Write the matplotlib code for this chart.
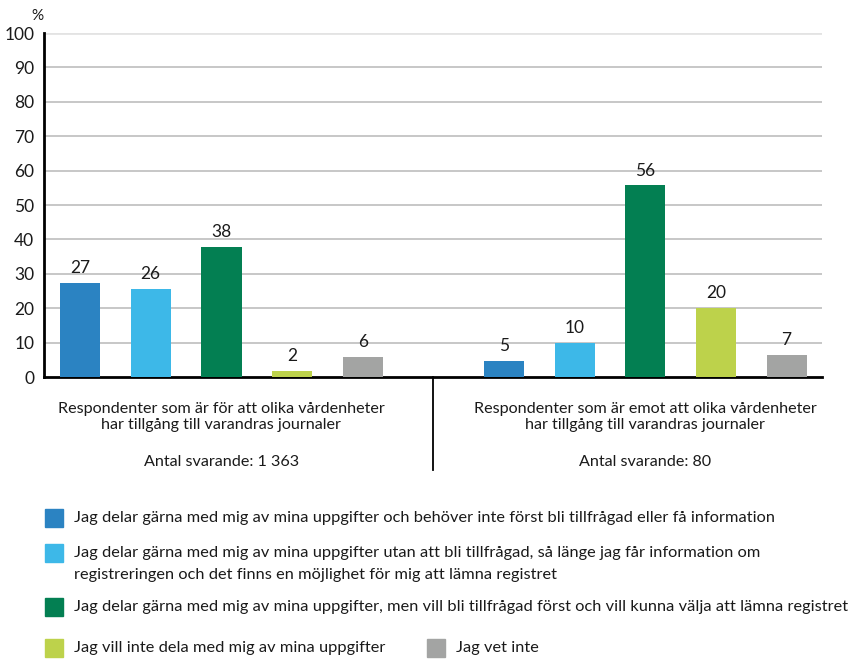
import matplotlib
matplotlib.use("Agg")
import matplotlib.pyplot as plt
from matplotlib.patches import Rectangle

plt.rcParams['font.family'] = ['Lato', 'DejaVu Sans']

series_names = [
    "Jag delar gärna med mig av mina uppgifter och behöver inte först bli tillfrågad eller få information",
    "Jag delar gärna med mig av mina uppgifter utan att bli tillfrågad, så länge jag får information om\nregistreringen och det finns en möjlighet för mig att lämna registret",
    "Jag delar gärna med mig av mina uppgifter, men vill bli tillfrågad först och vill kunna välja att lämna registret",
    "Jag vill inte dela med mig av mina uppgifter",
    "Jag vet inte",
]
colors = ["#2B83C2", "#3DB8E8", "#037F52", "#BDD24B", "#A3A4A3"]

group_titles = [
    "Respondenter som är för att olika vårdenheter\nhar tillgång till varandras journaler",
    "Respondenter som är emot att olika vårdenheter\nhar tillgång till varandras journaler",
]
group_counts = ["Antal svarande: 1 363", "Antal svarande: 80"]

values_for = [27.4, 25.7, 37.9, 1.8, 5.8]
labels_for = ["27", "26", "38", "2", "6"]
values_against = [4.7, 9.9, 55.7, 20.0, 6.4]
labels_against = ["5", "10", "56", "20", "7"]

yticks = list(range(0, 101, 10))

fig = plt.figure(figsize=(8.57, 6.6), dpi=100)
ax = fig.add_axes([44/857, 1-377/660, (822-44)/857, (377-33)/660])

txt = "#1a1a1a"
groups = [(values_for, labels_for, 0), (values_against, labels_against, 6)]
for vals, labs, off in groups:
    for i, (v, l) in enumerate(zip(vals, labs)):
        ax.bar(off + i, v, width=0.57, color=colors[i], zorder=3)
        ax.text(off + i, v + 2.0, l, ha='center', va='bottom', fontsize=12.5, color=txt)

ax.set_xlim(-0.51, 10.5)
ax.set_ylim(0, 100)
ax.set_yticks(yticks)
ax.set_yticklabels([str(t) for t in yticks], fontsize=12.5, color=txt)
ax.set_xticks([])
ax.tick_params(axis='y', length=0, pad=7)
for t in yticks[1:]:
    ax.axhline(t, color="#BDBDBD" if t < 100 else "#E3E3E3", lw=1.2 if t < 100 else 2.0, zorder=1)
for s in ['top', 'right']:
    ax.spines[s].set_visible(False)
ax.spines['left'].set_linewidth(2)
ax.spines['bottom'].set_linewidth(2)
ax.spines['left'].set_color('black')
ax.spines['bottom'].set_color('black')

ax.text(-0.0, 1.03, "%", transform=ax.transAxes, ha='right', va='bottom', fontsize=11, color=txt)

# divider line
ax.plot([5, 5], [0, -27], color='black', lw=1.3, clip_on=False)

for gi, cx in enumerate([2, 8]):
    ax.text(cx, -7.3, group_titles[gi], ha='center', va='top', fontsize=11.6, color=txt, linespacing=1.15)
    ax.text(cx, -22.7, group_counts[gi], ha='center', va='top', fontsize=11.6, color=txt)

# legend
leg_rows = [(518, 0, 45), (553, 1, 45), (607, 2, 45), (648, 3, 45), (648, 4, 427)]
for y, idx, x in leg_rows:
    fig.patches.append(Rectangle((x/857, 1-(y+9)/660), 18/857, 18/660, transform=fig.transFigure,
                                 color=colors[idx]))
    for k, line in enumerate(series_names[idx].split("\n")):
        fig.text((x+29)/857, 1-(y+22*k)/660, line, ha='left', va='center',
                 fontsize=11.8, color=txt)

fig.savefig("out.png", dpi=100)
